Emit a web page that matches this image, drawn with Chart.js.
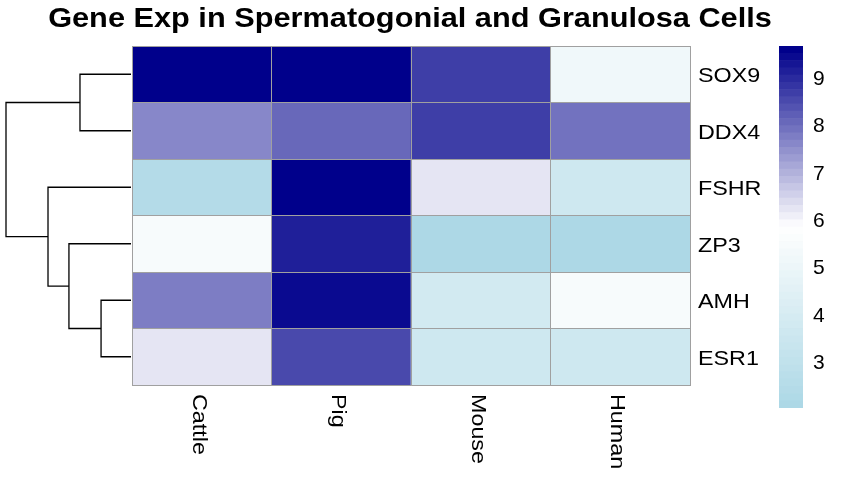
<!DOCTYPE html>
<html>
<head>
<meta charset="utf-8">
<script src="https://cdn.jsdelivr.net/npm/chart.js@4.4.1/dist/chart.umd.min.js"></script>
<style>
  html, body { margin: 0; padding: 0; background: #ffffff; }
  #wrap { position: relative; width: 848px; height: 489px; background: #ffffff; overflow: hidden; }
  canvas { position: absolute; top: 0; }
</style>
</head>
<body>
<div id="wrap">
  <canvas id="heat" width="848" height="489" style="left:0;width:848px;height:489px"></canvas>
  <canvas id="dendro" width="132" height="489" style="left:0;width:132px;height:489px"></canvas>
  <canvas id="bar" width="88" height="489" style="left:760px;width:88px;height:489px"></canvas>
</div>
<script>
// ---------------- DATA ----------------
const titleText = 'Gene Exp in Spermatogonial and Granulosa Cells';
const species = ['Cattle', 'Pig', 'Mouse', 'Human'];
const genes = ['SOX9', 'DDX4', 'FSHR', 'ZP3', 'AMH', 'ESR1'];
const sox9 = [9.70, 9.70, 8.77, 5.26];
const ddx4 = [7.67, 8.14, 8.65, 7.98];
const fshr = [2.38, 9.70, 6.28, 3.66];
const zp3  = [5.45, 9.09, 2.10, 2.05];
const amh  = [7.84, 9.40, 3.88, 5.45];
const esr1 = [6.28, 8.62, 3.66, 3.66];
const legendTicks = [3, 4, 5, 6, 7, 8, 9];
// row dendrogram (hclust style: negative = leaf row number, positive = earlier merge)
const mergeLeft   = [-5, -1, -4, -3, 2];
const mergeRight  = [-6, -2,  1,  3, 4];
const mergeHeight = [2.06, 3.51, 4.27, 5.71, 8.60];

const rows = [sox9, ddx4, fshr, zp3, amh, esr1];

// ---------------- COLOUR SCALE ----------------
const nColors = 50;
const cLow = [173, 216, 230], cMid = [255, 255, 255], cHigh = [0, 0, 139];
const allVals = rows.flat();
const vMin = Math.min(...allVals), vMax = Math.max(...allVals);
function ramp(t) {
  let a, b, s;
  if (t <= 0.5) { a = cLow; b = cMid; s = t / 0.5; } else { a = cMid; b = cHigh; s = (t - 0.5) / 0.5; }
  const c = a.map((v, k) => Math.round(v + (b[k] - v) * s));
  return 'rgb(' + c.join(',') + ')';
}
const palette = [];
for (let i = 0; i < nColors; i++) palette.push(ramp(i / (nColors - 1)));
const breaks = [];
for (let i = 0; i <= nColors; i++) breaks.push(vMin + (vMax - vMin) * i / nColors);
function colorFor(v) {
  let idx = Math.floor((v - vMin) / (vMax - vMin) * nColors);
  idx = Math.max(0, Math.min(nColors - 1, idx));
  return palette[idx];
}

const FONT = '"Liberation Sans", Arial, sans-serif';
const GRID = '#a0a0a0';
const STRETCH = 1.11;

// ---------------- HEATMAP ----------------
const heatLabels = {
  id: 'heatLabels',
  afterDraw(chart) {
    const ctx = chart.ctx, xs = chart.scales.x, ys = chart.scales.y, area = chart.chartArea;
    ctx.save();
    ctx.fillStyle = '#000';
    // title
    ctx.save();
    ctx.font = 'bold 28px ' + FONT;
    ctx.textAlign = 'center';
    ctx.textBaseline = 'alphabetic';
    ctx.translate(410, 27);
    ctx.scale(1.097, 1);
    ctx.fillText(titleText, 0, 0);
    ctx.restore();
    // row labels
    ctx.font = '21px ' + FONT;
    genes.forEach((g, i) => {
      ctx.save();
      ctx.translate(area.right + 8, ys.getPixelForValue(i + 0.5) + 8);
      ctx.scale(STRETCH, 1);
      ctx.textAlign = 'left';
      ctx.textBaseline = 'alphabetic';
      ctx.fillText(g, 0, 0);
      ctx.restore();
    });
    // column labels, rotated
    species.forEach((s, j) => {
      ctx.save();
      ctx.translate(xs.getPixelForValue(j) - 3, area.bottom + 9);
      ctx.rotate(Math.PI / 2);
      ctx.scale(STRETCH, 1);
      ctx.textAlign = 'left';
      ctx.textBaseline = 'middle';
      ctx.fillText(s, 0, 0);
      ctx.restore();
    });
    ctx.restore();
  }
};

new Chart(document.getElementById('heat'), {
  type: 'bar',
  data: {
    labels: species,
    datasets: genes.map((g, i) => ({
      label: g,
      data: species.map(() => [i, i + 1]),
      backgroundColor: rows[i].map(colorFor),
      borderWidth: 0,
      barPercentage: 1,
      categoryPercentage: 1,
      grouped: false
    }))
  },
  options: {
    responsive: false,
    animation: false,
    devicePixelRatio: 1,
    layout: { padding: { left: 132, right: 158, top: 46, bottom: 104 } },
    plugins: { legend: { display: false }, tooltip: { enabled: false }, title: { display: false } },
    scales: {
      x: {
        type: 'category',
        offset: true,
        ticks: { display: false },
        grid: { display: true, offset: true, color: GRID, lineWidth: 1, drawTicks: false, z: 1 },
        border: { display: true, color: GRID, width: 1, z: 1 }
      },
      y: {
        type: 'linear',
        min: 0, max: 6,
        reverse: true,
        ticks: { display: false, stepSize: 1 },
        grid: { display: true, color: GRID, lineWidth: 1, drawTicks: false, z: 1 },
        border: { display: true, color: GRID, width: 1, z: 1 }
      }
    }
  },
  plugins: [heatLabels]
});

// ---------------- DENDROGRAM ----------------
const nodeY = [], nodeH = [];
function childPos(id) {
  if (id < 0) return { y: -id - 1 + 0.5, h: 0 };
  return { y: nodeY[id - 1], h: nodeH[id - 1] };
}
const dendroSets = mergeHeight.map((h, k) => {
  const a = childPos(mergeLeft[k]), b = childPos(mergeRight[k]);
  nodeY.push((a.y + b.y) / 2); nodeH.push(h);
  return {
    data: [{ x: a.h, y: a.y }, { x: h, y: a.y }, { x: h, y: b.y }, { x: b.h, y: b.y }],
    borderColor: '#000', borderWidth: 1.3, pointRadius: 0, fill: false, tension: 0, clip: false
  };
});

new Chart(document.getElementById('dendro'), {
  type: 'line',
  data: { datasets: dendroSets },
  options: {
    responsive: false,
    animation: false,
    devicePixelRatio: 1,
    layout: { padding: { left: 6, right: 1, top: 46, bottom: 104 } },
    plugins: { legend: { display: false }, tooltip: { enabled: false } },
    scales: {
      x: { type: 'linear', reverse: true, min: 0, max: Math.max(...mergeHeight), display: false },
      y: { type: 'linear', reverse: true, min: 0, max: 6, display: false }
    }
  }
});

// ---------------- COLOUR BAR LEGEND ----------------
new Chart(document.getElementById('bar'), {
  type: 'bar',
  data: {
    labels: [''],
    datasets: palette.map((c, i) => ({
      data: [[breaks[i], breaks[i + 1]]],
      backgroundColor: c,
      borderWidth: 0,
      barPercentage: 1,
      categoryPercentage: 1,
      grouped: false
    }))
  },
  options: {
    responsive: false,
    animation: false,
    devicePixelRatio: 1,
    layout: { padding: { left: 19, right: 0, top: 46, bottom: 81 } },
    plugins: { legend: { display: false }, tooltip: { enabled: false } },
    scales: {
      x: { display: false },
      y: {
        type: 'linear',
        position: 'right',
        min: vMin, max: vMax,
        afterBuildTicks(scale) { scale.ticks = legendTicks.map(v => ({ value: v })); },
        afterFit(scale) { scale.width = 45; },
        ticks: { color: '#000', font: { family: FONT, size: 21 }, padding: 10, callback: v => String(v) },
        grid: { display: false, drawTicks: false },
        border: { display: false }
      }
    }
  }
});
</script>
</body>
</html>
